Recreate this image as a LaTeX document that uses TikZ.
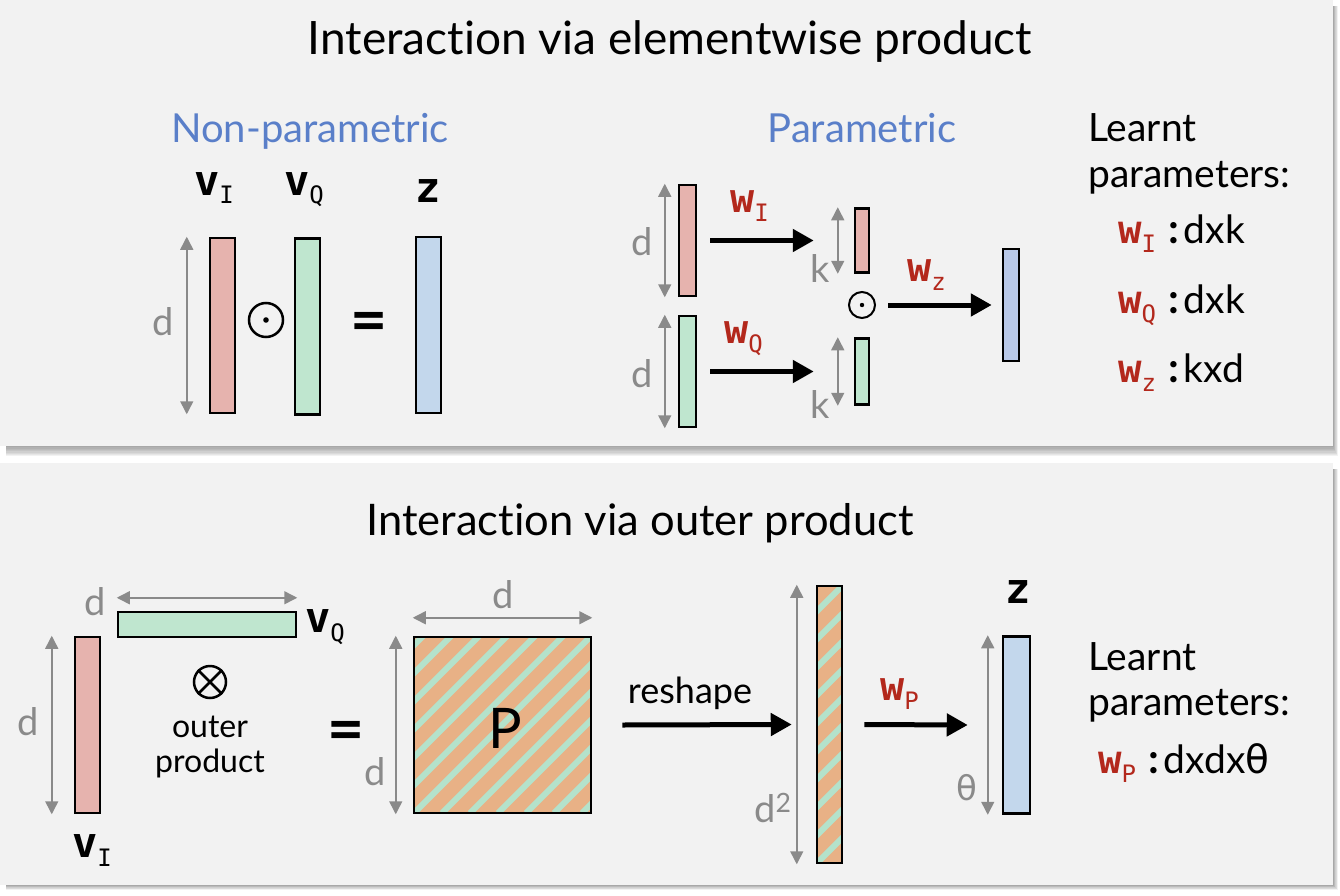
\documentclass[tikz,border=0pt]{standalone}
\usepackage{fontspec}
\setmainfont[Ligatures={NoCommon, NoDiscretionary, NoContextual}]{Lato}
\newfontfamily\vecfont{DejaVu Sans Mono}
\newfontfamily\greekfont{DejaVu Sans}
\usetikzlibrary{arrows.meta, positioning}

\definecolor{panelgray}{HTML}{F2F2F2}
\definecolor{vred}{HTML}{E6B3AE}
\definecolor{vgreen}{HTML}{BFE6CF}
\definecolor{vblue}{HTML}{C3D7EC}
\definecolor{vbluep}{HTML}{B9C9E8}
\definecolor{porange}{HTML}{E8B186}
\definecolor{pgreen}{HTML}{B4E2CB}
\definecolor{dimgray}{HTML}{8A8A8A}
\definecolor{wred}{HTML}{B3281C}
\definecolor{headblue}{HTML}{5A7FC9}

\newcommand{\vname}[2]{{\vecfont\bfseries #1}\raisebox{-9pt}{\vecfont\fontsize{24}{24}\selectfont #2}}
\newcommand{\wname}[2]{\textcolor{wred}{{\vecfont\bfseries #1}\raisebox{-9pt}{\vecfont\fontsize{24}{24}\selectfont #2}}}
\newcommand{\pcolon}{\hspace{12pt}{\fontsize{42}{42}\selectfont\bfseries :}\hspace{5pt}}

\tikzset{
    bar/.style={draw, line width=2.5pt, rectangle, inner sep=0pt},
    hatched/.style={fill=porange, path picture={
        \foreach \i in {-20,...,20}
            \draw[pgreen, line width=6pt] ([xshift=\i*28pt]path picture bounding box.south west) -- ++(400,-400);
    }},
    dimarrow/.style={draw=dimgray, line width=1.5pt, {Triangle[length=13pt,width=13pt]}-{Triangle[length=13pt,width=13pt]}},
    flow/.style={line width=5pt, -{Triangle[length=21pt,width=22pt]}},
    dimlabel/.style={text=dimgray, font=\fontsize{38}{38}\selectfont, inner sep=0pt, anchor=base},
    heading/.style={font=\fontsize{45}{45}\selectfont, inner sep=0pt, anchor=base},
    subheading/.style={text=headblue, font=\fontsize{40}{40}\selectfont, inner sep=0pt, anchor=base},
    vlabel/.style={font=\fontsize{42}{42}\selectfont, inner sep=0pt, anchor=base west},
    zlabel/.style={font=\fontsize{42}{42}\vecfont\bfseries, inner sep=0pt, anchor=base west},
    wlabel/.style={font=\fontsize{40}{40}\selectfont, inner sep=0pt, anchor=base west},
    plain/.style={font=\fontsize{39}{39}\selectfont, inner sep=0pt, anchor=base west},
    opsign/.style={circle, draw, line width=2.5pt, inner sep=0pt},
    eqsign/.style={font=\fontsize{64}{64}\selectfont\bfseries, inner sep=0pt, anchor=base}
}

\begin{document}
\begin{tikzpicture}[x=1pt, y=-1pt]
    \useasboundingbox (0,0) rectangle (1340,896);

    % panels and their shadows
    \foreach \sh in {1,...,8} {
        \fill[black, opacity=0.05] (6,6) rectangle (1333+0.6*\sh, 446+1.3*\sh);
        \fill[black, opacity=0.05] (6,469) rectangle (1333+0.6*\sh, 885+0.6*\sh);
    }
    \fill[panelgray] (0,0) rectangle (1333,446);
    \fill[panelgray] (0,463) rectangle (1333,885);

    % ---- elementwise product ----
    \node (title1) [heading, font=\fontsize{46}{46}\selectfont] at (670,55) {Interaction via elementwise product};
    \node (nonpar) [subheading] at (310,143) {Non-parametric};
    \node (par) [subheading] at (862,143) {Parametric};

    \node (vI) [bar, fill=vred, minimum width=25pt, minimum height=175pt] at (222.5,325.5) {};
    \node (vQ) [bar, fill=vgreen, minimum width=25pt, minimum height=176pt] at (307.5,326.5) {};
    \node (z) [bar, fill=vblue, minimum width=25pt, minimum height=176pt] at (428.5,325) {};
    \node (vIlab) [vlabel] at (194,195) {\vname{v}{I}};
    \node (vQlab) [vlabel] at (284,195) {\vname{v}{Q}};
    \node (zlab) [zlabel] at (415,203) {z};
    \draw[dimarrow] ([xshift=-22pt]vI.north west) -- ([xshift=-22pt]vI.south west);
    \node (dI) [dimlabel] at (163,335) {d};
    \node (had) [opsign, minimum size=34pt] at (266,320) {};
    \fill (had.center) circle (2.8pt);
    \node (eq1) [eqsign] at (369,342) {=};

    % parametric
    \node (pI) [bar, fill=vred, minimum width=17pt, minimum height=111pt] at (687.5,240.5) {};
    \node (pQ) [bar, fill=vgreen, minimum width=17pt, minimum height=111pt] at (687.5,371.5) {};
    \node (kI) [bar, fill=vred, minimum width=14pt, minimum height=64pt] at (862,240.5) {};
    \node (kQ) [bar, fill=vgreen, minimum width=14pt, minimum height=66pt] at (862,371.5) {};
    \node (pz) [bar, fill=vbluep, minimum width=16pt, minimum height=112pt] at (1011,305) {};
    \draw[dimarrow] ([xshift=-13pt]pI.north west) -- ([xshift=-13pt]pI.south west);
    \draw[dimarrow] ([xshift=-13pt]pQ.north west) -- ([xshift=-13pt]pQ.south west);
    \draw[dimarrow] ([xshift=-16pt]kI.north west) -- ([xshift=-16pt]kI.south west);
    \draw[dimarrow] ([xshift=-16pt]kQ.north west) -- ([xshift=-16pt]kQ.south west);
    \node (dpI) [dimlabel] at (642,255) {d};
    \node (dpQ) [dimlabel] at (642,387) {d};
    \node (kIlab) [dimlabel] at (820,282) {k};
    \node (kQlab) [dimlabel] at (820,418) {k};
    \node (had2) [opsign, line width=2pt, minimum size=26pt] at (862,305) {};
    \fill (had2.center) circle (2.2pt);
    \draw[flow] ([xshift=13pt]pI.east) -- ([xshift=-40pt]kI.west);
    \draw[flow] ([xshift=13pt]pQ.east) -- ([xshift=-40pt]kQ.west);
    \draw[flow] ([xshift=12pt]had2.east) -- ([xshift=-10pt]pz.west);
    \node (wI) [wlabel] at (730,212) {\wname{w}{I}};
    \node (wQ) [wlabel] at (724,343) {\wname{w}{Q}};
    \node (wz) [wlabel] at (907,281) {\wname{w}{z}};

    \node (learn1) [plain] at (1088,142) {Learnt};
    \node (params1) [plain] at (1088,188) {parameters:};
    \node (wIdim) [plain] at (1118,243) {\wname{w}{I}\pcolon dxk};
    \node (wQdim) [plain] at (1118,313) {\wname{w}{Q}\pcolon dxk};
    \node (wzdim) [plain] at (1118,382) {\wname{w}{z}\pcolon kxd};

    % ---- outer product ----
    \node (title2) [heading, font=\fontsize{43.5}{44}\selectfont] at (640,535) {Interaction via outer product};

    \node (oQ) [bar, fill=vgreen, minimum width=178pt, minimum height=25pt] at (207,624.5) {};
    \node (oI) [bar, fill=vred, minimum width=25pt, minimum height=176pt] at (87.5,725) {};
    \draw[dimarrow] ([yshift=13pt]oQ.north west) -- ([yshift=13pt]oQ.north east);
    \draw[dimarrow] ([xshift=-22pt]oI.north west) -- ([xshift=-22pt]oI.south west);
    \node (doQ) [dimlabel] at (95,615) {d};
    \node (doI) [dimlabel] at (28,735) {d};
    \node (oQlab) [vlabel] at (305,632) {\vname{v}{Q}};
    \node (oIlab) [vlabel] at (72,857) {\vname{v}{I}};
    \node (otimes) [opsign, minimum size=32pt] at (210,682) {};
    \draw[line width=2.5pt] (otimes.north west) -- (otimes.south east);
    \draw[line width=2.5pt] (otimes.north east) -- (otimes.south west);
    \node (outer) [font=\fontsize{32}{32}\selectfont, inner sep=0pt, anchor=base] at (210,737) {outer};
    \node (product) [font=\fontsize{32}{32}\selectfont, inner sep=0pt, anchor=base] at (210,772) {product};
    \node (eq2) [eqsign] at (346,751) {=};

    \node (P) [bar, hatched, minimum width=177pt, minimum height=176pt] at (502.5,725) {};
    \node (Plab) [font=\fontsize{56}{56}\selectfont, inner sep=0pt] at (505,728) {P};
    \draw[dimarrow] ([yshift=18pt]P.north west) -- ([yshift=18pt]P.north east);
    \draw[dimarrow] ([xshift=-17pt]P.north west) -- ([xshift=-17pt]P.south west);
    \node (dPtop) [dimlabel] at (503,608) {d};
    \node (dPleft) [dimlabel] at (375,785) {d};

    \node (flat) [bar, hatched, minimum width=25pt, minimum height=277pt] at (829.5,724.5) {};
    \draw[flow] ([xshift=30pt]P.east) -- ([xshift=-24pt]flat.west);
    \node (reshape) [font=\fontsize{36}{36}\selectfont, inner sep=0pt, anchor=base] at (690,703) {reshape};
    \draw[dimarrow] ([xshift=-19pt]flat.north west) -- ([xshift=-19pt]flat.south west);
    \node (dsq) [dimlabel] at (773,822) {d\textsuperscript{2}};

    \node (oz) [bar, fill=vblue, minimum width=27pt, minimum height=177pt] at (1016.5,725) {};
    \draw[flow] ([xshift=21pt]flat.east) -- ([xshift=-34pt]oz.west);
    \node (wP) [wlabel] at (880,700) {\wname{w}{P}};
    \draw[dimarrow] ([xshift=-14pt]oz.north west) -- ([xshift=-14pt]oz.south west);
    \node (theta) [dimlabel, font=\fontsize{34}{34}\greekfont] at (967,800) {θ};
    \node (ozlab) [zlabel] at (1005,603) {z};

    \node (learn2) [plain] at (1088,670) {Learnt};
    \node (params2) [plain] at (1088,715) {parameters:};
    \node (wPdim) [plain] at (1098,773) {\wname{w}{P}\pcolon dxdx{\greekfont θ}};
\end{tikzpicture}
\end{document}
